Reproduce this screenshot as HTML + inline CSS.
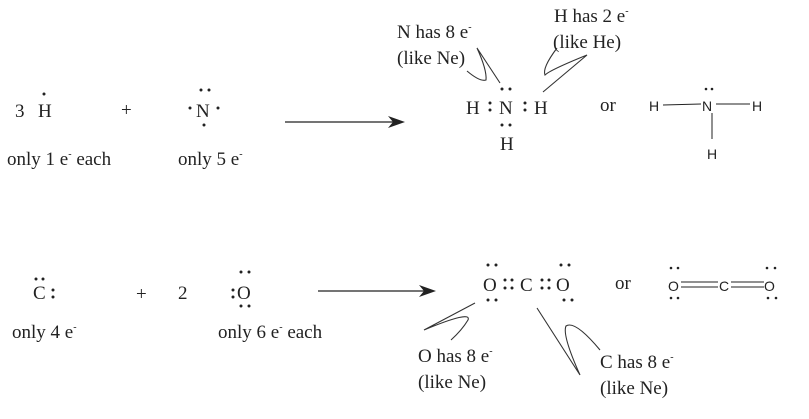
<!DOCTYPE html>
<html><head><style>
html,body{margin:0;padding:0;background:#fff}
svg{display:block}
.s{font-family:"Liberation Serif",serif;font-size:19px;fill:#222}
.a{font-family:"Liberation Sans",sans-serif;font-size:14px;fill:#222}
.sup{font-size:10px}
</style></head><body>
<svg width="809" height="419" viewBox="0 0 809 419" xmlns="http://www.w3.org/2000/svg">
<g fill="#222">
<text class="s" x="15" y="117">3</text>
<text class="s" x="38" y="117">H</text>
<circle cx="44" cy="94" r="1.5"/>
<text class="s" x="121" y="116" fill="#777">+</text>
<text class="s" x="196" y="117">N</text>
<circle cx="201" cy="90" r="1.5"/><circle cx="209" cy="90" r="1.5"/>
<circle cx="190" cy="108" r="1.5"/><circle cx="218" cy="108" r="1.5"/>
<circle cx="204" cy="125" r="1.5"/>
<text class="s" x="7" y="165">only 1 e<tspan class="sup" dy="-8">-</tspan><tspan dy="8"> each</tspan></text>
<text class="s" x="178" y="165">only 5 e<tspan class="sup" dy="-8">-</tspan></text>
<line x1="285" y1="122" x2="395" y2="122" stroke="#222" stroke-width="1.3"/>
<polygon points="405,122 388,116 393,122 388,128"/>
<text class="s" x="397" y="38">N has 8 e<tspan class="sup" dy="-8">-</tspan></text>
<text class="s" x="397" y="64">(like Ne)</text>
<text class="s" x="554" y="22">H has 2 e<tspan class="sup" dy="-8">-</tspan></text>
<text class="s" x="553" y="48">(like He)</text>
<text class="s" x="466" y="114">H</text>
<circle cx="490" cy="103" r="1.5"/><circle cx="490" cy="110" r="1.5"/>
<text class="s" x="499" y="114">N</text>
<circle cx="502" cy="89" r="1.5"/><circle cx="510" cy="89" r="1.5"/>
<circle cx="502" cy="125" r="1.5"/><circle cx="510" cy="125" r="1.5"/>
<circle cx="525" cy="103" r="1.5"/><circle cx="525" cy="110" r="1.5"/>
<text class="s" x="534" y="114">H</text>
<text class="s" x="500" y="150">H</text>
<text class="s" x="600" y="111">or</text>
<text class="a" x="649" y="111">H</text>
<line x1="663" y1="105" x2="701" y2="104" stroke="#222"/>
<text class="a" x="702" y="111">N</text>
<circle cx="706" cy="89" r="1.3"/><circle cx="712" cy="89" r="1.3"/>
<line x1="716" y1="104" x2="750" y2="104" stroke="#222"/>
<text class="a" x="752" y="111">H</text>
<line x1="712" y1="113" x2="712" y2="139" stroke="#222"/>
<text class="a" x="707" y="159">H</text>
<text class="s" x="33" y="299">C</text>
<circle cx="36" cy="279" r="1.5"/><circle cx="43" cy="279" r="1.5"/>
<circle cx="53" cy="290" r="1.5"/><circle cx="53" cy="297" r="1.5"/>
<text class="s" x="136" y="300" fill="#555">+</text>
<text class="s" x="178" y="299">2</text>
<circle cx="233" cy="290" r="1.5"/><circle cx="233" cy="297" r="1.5"/>
<text class="s" x="237" y="299">O</text>
<circle cx="241" cy="272" r="1.5"/><circle cx="249" cy="272" r="1.5"/>
<circle cx="241" cy="306" r="1.5"/><circle cx="249" cy="306" r="1.5"/>
<text class="s" x="12" y="338">only 4 e<tspan class="sup" dy="-8">-</tspan></text>
<text class="s" x="218" y="338">only 6 e<tspan class="sup" dy="-8">-</tspan><tspan dy="8"> each</tspan></text>
<line x1="318" y1="291" x2="426" y2="291" stroke="#222" stroke-width="1.3"/>
<polygon points="436,291 419,285 424,291 419,297"/>
<text class="s" x="483" y="291">O</text>
<circle cx="488" cy="265" r="1.5"/><circle cx="496" cy="265" r="1.5"/>
<circle cx="488" cy="300" r="1.5"/><circle cx="496" cy="300" r="1.5"/>
<circle cx="505" cy="280" r="1.5"/><circle cx="505" cy="288" r="1.5"/>
<circle cx="512" cy="280" r="1.5"/><circle cx="512" cy="288" r="1.5"/>
<text class="s" x="520" y="291">C</text>
<circle cx="542" cy="280" r="1.5"/><circle cx="542" cy="288" r="1.5"/>
<circle cx="549" cy="280" r="1.5"/><circle cx="549" cy="288" r="1.5"/>
<text class="s" x="556" y="291">O</text>
<circle cx="561" cy="265" r="1.5"/><circle cx="569" cy="265" r="1.5"/>
<circle cx="564" cy="300" r="1.5"/><circle cx="572" cy="300" r="1.5"/>
<text class="s" x="615" y="289">or</text>
<text class="a" x="668" y="291">O</text>
<circle cx="671" cy="268" r="1.3"/><circle cx="678" cy="268" r="1.3"/>
<circle cx="671" cy="298" r="1.3"/><circle cx="678" cy="298" r="1.3"/>
<line x1="681" y1="282" x2="718" y2="282" stroke="#222"/>
<line x1="681" y1="287" x2="718" y2="287" stroke="#222"/>
<text class="a" x="719" y="291">C</text>
<line x1="731" y1="282" x2="764" y2="282" stroke="#222"/>
<line x1="731" y1="287" x2="764" y2="287" stroke="#222"/>
<text class="a" x="764" y="291">O</text>
<circle cx="767" cy="268" r="1.3"/><circle cx="775" cy="268" r="1.3"/>
<circle cx="768" cy="298" r="1.3"/><circle cx="776" cy="298" r="1.3"/>
<text class="s" x="418" y="362">O has 8 e<tspan class="sup" dy="-8">-</tspan></text>
<text class="s" x="418" y="388">(like Ne)</text>
<text class="s" x="600" y="368">C has 8 e<tspan class="sup" dy="-8">-</tspan></text>
<text class="s" x="600" y="394">(like Ne)</text>
</g>
<g fill="none" stroke="#333" stroke-width="1.1">
<path d="M500,83 L477,48 Q487,70 486,80 Q480,82 467,71"/>
<path d="M543,92 L587,55 Q550,70 545,75 Q542,68 557,48"/>
<path d="M475,303 L424,330 Q472,310 468,320 Q462,330 451,340"/>
<path d="M537,308 L580,375 Q562,335 566,326 Q575,320 600,350"/>
</g>
</svg>
</body></html>
